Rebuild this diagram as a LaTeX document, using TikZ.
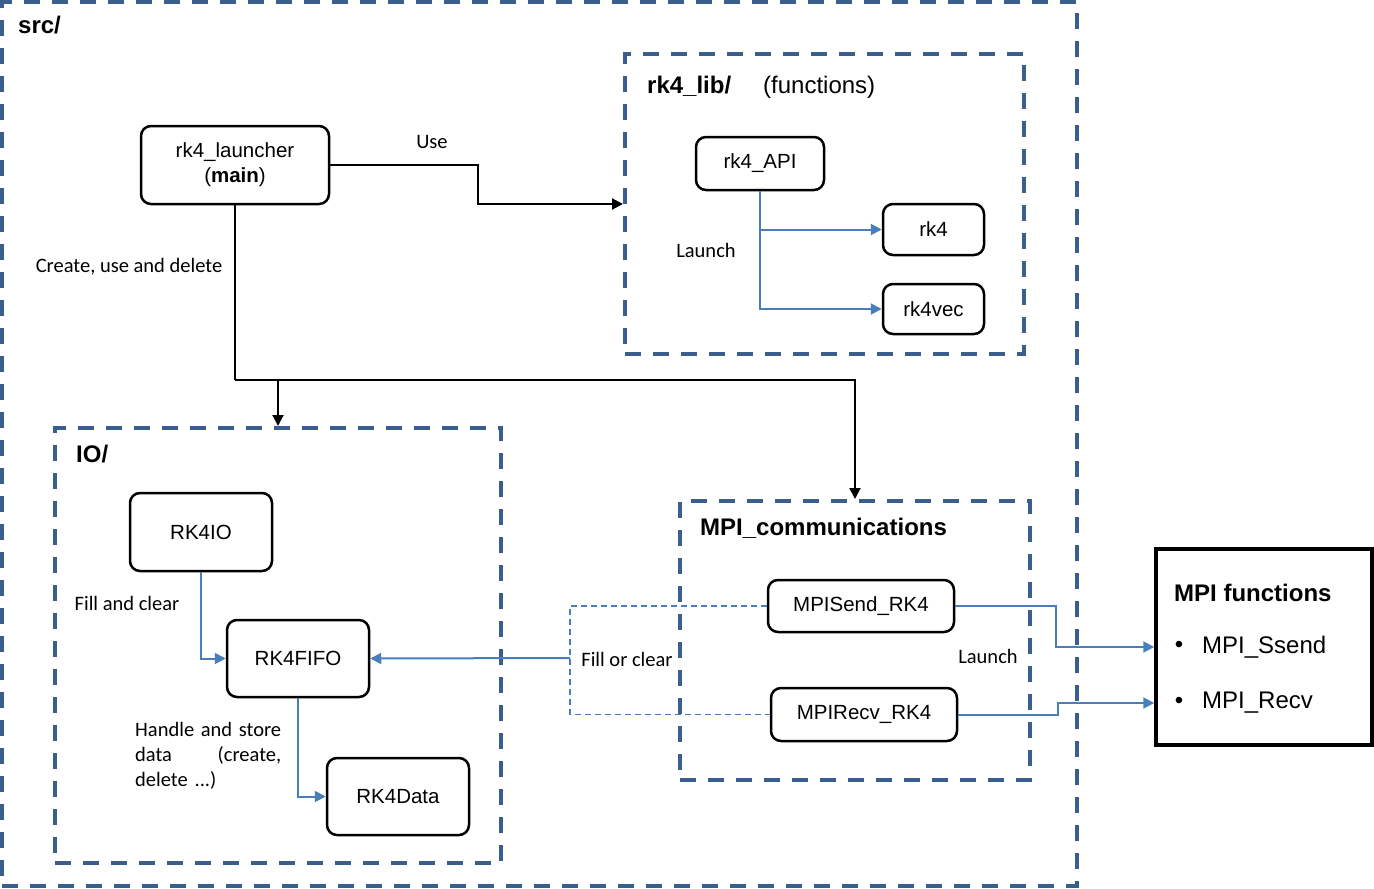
\documentclass[tikz,border=0pt]{standalone}
\usepackage{fontspec}
\setmainfont{Liberation Sans}
\newfontfamily\calfont{Carlito}
\usetikzlibrary{arrows.meta}

\definecolor{framecol}{HTML}{3A5F8F}
\definecolor{linkcol}{HTML}{4A7EBB}

\newcommand{\titlefont}{\fontsize{24}{28}\selectfont\bfseries}
\newcommand{\boxfont}{\fontsize{20.5}{25}\selectfont}
\newcommand{\labfont}{\calfont\fontsize{20.5}{25}\selectfont}

\begin{document}
\begin{tikzpicture}[
    x=1pt, y=-1pt,
    >={Triangle[length=11pt,width=11pt]},
    unit/.style={draw, rounded corners=10pt, line width=2.5pt, inner sep=0pt, align=center, font=\boxfont},
    folder/.style={draw=framecol, line width=4pt, dash pattern=on 16pt off 12pt, inner sep=0pt},
    title/.style={font=\titlefont, anchor=base west, inner sep=0pt},
    lab/.style={font=\labfont, inner sep=0pt},
    call/.style={->, line width=2pt},
    link/.style={->, draw=linkcol, line width=2pt}
]
\useasboundingbox (0,0) rectangle (1374,889);

% Folders
\node[folder, minimum width=1075pt, minimum height=884pt] (src) at (539.5,444) {};
\node[folder, minimum width=399pt, minimum height=300pt] (rk4lib) at (824.5,204) {};
\node[folder, minimum width=446pt, minimum height=435pt] (io) at (278,645.5) {};
\node[folder, minimum width=350pt, minimum height=279pt] (mpicomm) at (855,640.5) {};
\node[draw, line width=3.5pt, minimum width=216pt, minimum height=196pt] (mpifun) at (1264,647) {};

\node[title] (srctitle) at (18,33) {src/};
\node[title] (libtitle) at (647,93) {rk4\_lib/};
\node[title, font=\fontsize{24}{28}\selectfont] (libnote) at (763,93) {(functions)};
\node[title] (iotitle) at (76,462) {IO/};
\node[title] (commtitle) at (700,535) {MPI\_communications};
\node[title] (funtitle) at (1174,601) {MPI functions};

% Units
\node[unit, minimum width=188pt, minimum height=78pt] (launcher) at (235,165) {rk4\_launcher\\(\textbf{main})};
\node[unit, minimum width=128pt, minimum height=53pt] (api) at (760,163.5) {rk4\_API};
\node[unit, minimum width=101pt, minimum height=51pt] (rkf) at (933.5,229.5) {rk4};
\node[unit, minimum width=101pt, minimum height=50pt] (rkvec) at (933.5,309) {rk4vec};
\node[unit, minimum width=142pt, minimum height=78pt] (rkio) at (201,532) {RK4IO};
\node[unit, minimum width=142pt, minimum height=77pt] (fifo) at (298,658.5) {RK4FIFO};
\node[unit, minimum width=142pt, minimum height=77pt] (data) at (398,796.5) {RK4Data};
\node[unit, minimum width=186pt, minimum height=52pt] (send) at (861,606) {MPISend\_RK4};
\node[unit, minimum width=186pt, minimum height=53pt] (recv) at (864,714.5) {MPIRecv\_RK4};

% MPI functions list
\node[inner sep=0pt, font=\fontsize{24}{28}\selectfont] (bul1) at (1179,647) {\textbullet};
\node[inner sep=0pt, anchor=west, font=\fontsize{24}{28}\selectfont] (ssend) at (1202,647) {MPI\_Ssend};
\node[inner sep=0pt, font=\fontsize{24}{28}\selectfont] (bul2) at (1179,703) {\textbullet};
\node[inner sep=0pt, anchor=west, font=\fontsize{24}{28}\selectfont] (mrecv) at (1202,703) {MPI\_Recv};

% Connectors
\coordinate (split) at (235,380);
\coordinate (fillin) at (570,658);

\draw[call] (launcher.east) -- ++(148,0) |- (rk4lib.west);
\draw[line width=2pt] (launcher.south) -- (split);
\draw[call] (split) -| (io.north);
\draw[call] (split) -| (mpicomm.north);

\draw[link] (api.south) |- (rkf.west);
\draw[link] (api.south) |- (rkvec.west);

\draw[link] (rkio.south) |- (fifo.west);
\draw[link] (fifo.south) |- (data.west);
\draw[link] (fillin) -- (fifo.east);
\draw[draw=linkcol, line width=1.5pt, dash pattern=on 6pt off 4pt] (send.west) -| (fillin) |- (recv.west);

\draw[link] (send.east) -- ++(101,0) |- (mpifun.west |- ssend);
\draw[link] (recv.east) -- ++(100,0) |- (mpifun.west |- mrecv);

% Labels
\node[lab] (uselab) at (432,142) {Use};
\node[lab] (cudlab) at (129,267) {Create, use and delete};
\node[lab] (launchlab) at (706,250) {Launch};
\node[lab] (filllab) at (127,603) {Fill and clear};
\node[lab, text width=146pt, align=left, anchor=base west] (storelab) at (135,736)
{Handle\hfill and\hfill store\\data\hfill (create,\\delete ...)};
\node[lab] (fillorlab) at (627,659) {Fill or clear};
\node[lab] (launchlab2) at (988,656) {Launch};

\end{tikzpicture}
\end{document}
